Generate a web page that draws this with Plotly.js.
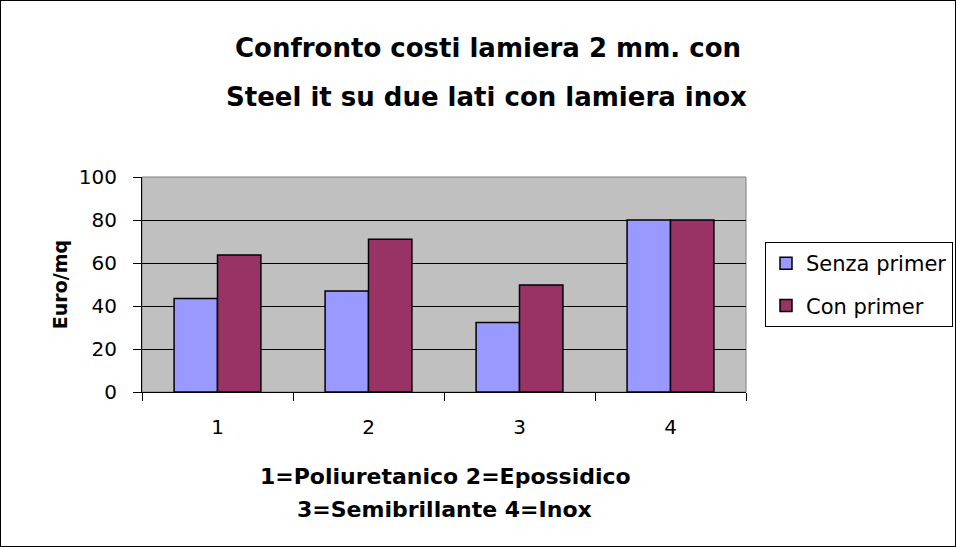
<!DOCTYPE html>
<html>
<head>
<meta charset="utf-8">
<script src="https://cdn.plot.ly/plotly-3.0.1.min.js"></script>
<style>
  html, body { margin: 0; padding: 0; background: #fff; }
  #wrap { position: relative; width: 956px; height: 547px; overflow: hidden; }
  #chart { width: 956px; height: 547px; }
  #frame { position: absolute; left: 0; top: 0; width: 954px; height: 545px; border: 1px solid #000; pointer-events: none; }
</style>
</head>
<body>
<div id="wrap">
  <div id="chart"></div>
  <div id="frame"></div>
</div>
<script>
const categories = ["1", "2", "3", "4"];
const senzaPrimer = [43.5, 47, 32.3, 80];
const conPrimer = [63.7, 71.1, 49.8, 80];
const seriesNames = ["Senza primer", "Con primer"];
const titleLines = ["Confronto costi lamiera 2 mm. con", "Steel it su due lati con lamiera inox"];
const xTitleLines = ["1=Poliuretanico 2=Epossidico", "3=Semibrillante 4=Inox"];
const yTitle = "Euro/mq";

const font = "DejaVu Sans, Arial, sans-serif";

const traces = [
  {
    type: "bar", x: categories, y: senzaPrimer, name: seriesNames[0], legendgroup: "a",
    marker: { color: "#9999FF", line: { color: "#000", width: 1.5 } }
  },
  {
    type: "bar", x: categories, y: conPrimer, name: seriesNames[1], legendgroup: "b",
    marker: { color: "#993366", line: { color: "#000", width: 1.5 } }
  }
];

const PW = 604, PH = 215, L = 142, T = 177;
function px(x) { return (x - L) / PW; }
function py(y) { return (T + PH - y) / PH; }

const layout = {
  width: 956, height: 547,
  margin: { l: L, r: 956 - L - PW, t: T, b: 547 - T - PH, autoexpand: false },
  paper_bgcolor: "#fff",
  plot_bgcolor: "#C0C0C0",
  font: { family: font, color: "#000", size: 20 },
  barmode: "group",
  bargap: 0.425,
  bargroupgap: 0,
  showlegend: true,
  legend: {
    x: px(765), y: py(242), xanchor: "left", yanchor: "top",
    bordercolor: "#000", borderwidth: 1, bgcolor: "#fff",
    font: { family: font, size: 21, color: "#000" },
    traceorder: "grouped", tracegroupgap: 12
  },
  xaxis: {
    type: "category",
    tickson: "boundaries",
    ticks: "outside", ticklen: 8, tickcolor: "#000", tickwidth: 1,
    showline: true, linecolor: "#000", linewidth: 1,
    showgrid: false,
    tickfont: { family: font, size: 20 },
    ticklabelstandoff: 17,
    fixedrange: true
  },
  yaxis: {
    range: [0, 100], tick0: 0, dtick: 20,
    ticks: "outside", ticklen: 8, tickcolor: "#000", tickwidth: 1,
    showline: true, linecolor: "#000", linewidth: 1,
    showgrid: true, gridcolor: "#000", gridwidth: 1,
    zeroline: false,
    tickfont: { family: font, size: 20 },
    ticklabelstandoff: 12,
    title: { text: "<b>" + yTitle + "</b>", font: { family: font, size: 19 }, standoff: 6 },
    fixedrange: true
  },
  shapes: [
    { type: "rect", xref: "paper", yref: "paper", x0: 0, x1: 1, y0: 0, y1: 1,
      line: { color: "#808080", width: 1 }, fillcolor: "rgba(0,0,0,0)", layer: "below" }
  ],
  annotations: [
    { text: "<b>" + titleLines[0] + "</b>", xref: "paper", yref: "paper", x: px(488), y: py(48),
      xanchor: "center", yanchor: "middle", showarrow: false, font: { family: font, size: 26 } },
    { text: "<b>" + titleLines[1] + "</b>", xref: "paper", yref: "paper", x: px(486), y: py(97),
      xanchor: "center", yanchor: "middle", showarrow: false, font: { family: font, size: 26 } },
    { text: "<b>" + xTitleLines[0] + "</b>", xref: "paper", yref: "paper", x: px(445), y: py(476),
      xanchor: "center", yanchor: "middle", showarrow: false, font: { family: font, size: 22 } },
    { text: "<b>" + xTitleLines[1] + "</b>", xref: "paper", yref: "paper", x: px(444), y: py(509),
      xanchor: "center", yanchor: "middle", showarrow: false, font: { family: font, size: 22 } }
  ]
};

Plotly.newPlot("chart", traces, layout, { displayModeBar: false, staticPlot: true });
</script>
</body>
</html>
